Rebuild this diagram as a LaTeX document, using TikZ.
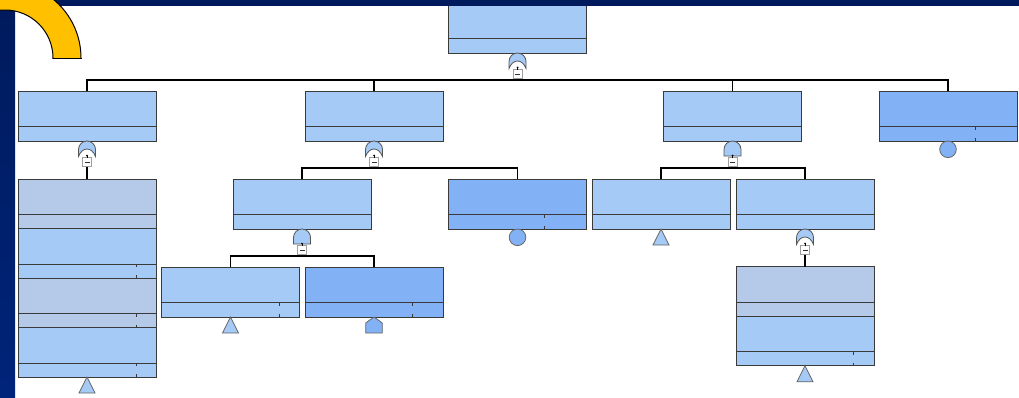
\documentclass[tikz,border=0pt]{standalone}
\definecolor{navy}{HTML}{001A5C}
\definecolor{navyb}{HTML}{00247A}
\definecolor{ring}{HTML}{FFC000}
\definecolor{lb}{HTML}{A6CAF6}
\definecolor{db}{HTML}{82B2F5}
\definecolor{gb}{HTML}{B4CAE8}
\definecolor{edge}{HTML}{3A3A3A}
\definecolor{gedge}{HTML}{555555}
\tikzset{
  ebox/.style={rectangle, draw=edge, line width=1pt, minimum width=138pt, minimum height=50pt, inner sep=0pt, outer sep=0pt},
  conn/.style={black, line width=1.6pt},
  thinconn/.style={black, line width=0.9pt},
  band/.style={draw=edge, line width=0.9pt},
  tickm/.style={edge, line width=0.8pt},
  gateline/.style={draw=gedge, line width=0.8pt, fill=lb},
  tailline/.style={draw=gedge!90, line width=0.8pt},
  minusbox/.style={rectangle, draw=gray!75, fill=white, line width=0.7pt, minimum width=9pt, minimum height=9pt, inner sep=0pt, outer sep=0pt,
    path picture={\draw[gray!40!black, line width=0.8pt] ([xshift=-2.5pt]path picture bounding box.center) -- ([xshift=2.5pt]path picture bounding box.center);}},
  orgate/.pic={
    \filldraw[gateline] (-8.5,15.5) -- (-8.5,8.5) .. controls (-8.5,3.81) and (-4.69,0) .. (0,0) .. controls (4.69,0) and (8.5,3.81) .. (8.5,8.5) -- (8.5,15.5)
      .. controls (6.5,10.5) and (3.5,8) .. (0,8) .. controls (-3.5,8) and (-6.5,10.5) .. (-8.5,15.5) -- cycle;
    \fill[black] (0,14.5) circle[radius=1pt];
    \coordinate (-out) at (0,14.5);
  },
  andgate/.pic={
    \filldraw[gateline] (-8.5,15) -- (-8.5,8.5) .. controls (-8.5,3.81) and (-4.69,0) .. (0,0) .. controls (4.69,0) and (8.5,3.81) .. (8.5,8.5) -- (8.5,15) -- cycle;
    \fill[black] (0,14.5) circle[radius=1pt];
    \coordinate (-out) at (0,14.5);
  },
  xfer/.pic={
    \filldraw[tailline, fill=lb] (0,0) -- (8,16) -- (-8,16) -- cycle;
  },
  basic/.pic={
    \filldraw[tailline, fill=db] (0,8.3) circle[radius=8.3pt];
  },
  house/.pic={
    \filldraw[tailline, fill=db] (0,0) -- (8.3,6) -- (8.3,16) -- (-8.3,16) -- (-8.3,6) -- cycle;
  },
}
\newcommand\bandtick[2]{\draw[tickm] (#1,#2-14) -- (#1,#2-11) (#1,#2-3) -- (#1,#2);}
\begin{document}
\begin{tikzpicture}[x=1pt,y=-1pt]
\useasboundingbox (0,0) rectangle (1019,397);
\clip (0,0) rectangle (1019,397);
\fill[white] (0,0) rectangle (1019,397);

% boxes
\node[ebox, fill=lb] (T) at (517.5,28) {};
\node[ebox, fill=lb] (A) at (87,116) {};
\node[ebox, fill=lb] (B) at (374,116) {};
\node[ebox, fill=lb] (C) at (732.5,116) {};
\node[ebox, fill=db] (D) at (948,116) {};
\node[ebox, fill=gb, minimum height=49.5pt] (S1) at (87,203.75) {};
\node[ebox, fill=lb, minimum height=49.5pt] (S2) at (87,253.25) {};
\node[ebox, fill=gb, minimum height=49.5pt] (S3) at (87,302.75) {};
\node[ebox, fill=lb, minimum height=49.5pt] (S4) at (87,352.25) {};
\node[ebox, fill=lb] (E) at (302,204) {};
\node[ebox, fill=db] (F) at (517.5,204) {};
\node[ebox, fill=lb] (G) at (661,204) {};
\node[ebox, fill=lb] (H) at (805,204) {};
\node[ebox, fill=lb] (I) at (230.5,292) {};
\node[ebox, fill=db] (J) at (374,292) {};
\node[ebox, fill=gb, minimum height=49.5pt] (K) at (805,291.5) {};
\node[ebox, fill=lb, minimum height=49.5pt] (L) at (805,341) {};

% lower bands
\foreach \b in {T,A,B,C,D,E,F,G,H,I,J}{
  \draw[band] ([yshift=14.5pt]\b.south west) -- ([yshift=14.5pt]\b.south east);
}
\foreach \b in {S1,S2,S3,S4,K,L}{
  \draw[band] ([yshift=14pt]\b.south west) -- ([yshift=14pt]\b.south east);
}
\bandtick{975}{141}
\bandtick{544}{229}
\bandtick{279}{317}
\bandtick{412}{317}
\bandtick{136.5}{278}
\bandtick{136.5}{327.5}
\bandtick{136.5}{377}
\bandtick{853.5}{365.75}

% gates
\pic (gT) at (T.south) {orgate};
\pic (gA) at (A.south) {orgate};
\pic (gB) at (B.south) {orgate};
\pic (gC) at (C.south) {andgate};
\pic (gE) at (E.south) {andgate};
\pic (gH) at (H.south) {orgate};
\foreach \g in {T,A,B,C,E,H}{
  \node[minusbox] (m\g) at ([yshift=-21pt]\g.south) {};
  \draw[thinconn] (g\g-out) -- (m\g.north);
}

% connectors
\coordinate (bus0) at (517.5,80);
\draw[conn] (mT.south) -- (bus0);
\draw[conn] (A.north) |- (bus0) -| (D.north);
\draw[conn] (B.north) -- (B.north |- bus0);
\draw[conn] (C.north) -- (C.north |- bus0);

\draw[conn] (mA.south) -- (S1.north);

\coordinate (busB) at (374,168);
\draw[conn] (mB.south) -- (busB);
\draw[conn] (E.north) |- (busB) -| (F.north);

\coordinate (busC) at (732.5,168);
\draw[conn] (mC.south) -- (busC);
\draw[conn] (G.north) |- (busC) -| (H.north);

\coordinate (busE) at (302,256);
\draw[conn] (mE.south) -- (busE);
\draw[conn] (I.north) |- (busE) -| (J.north);

\draw[conn] (mH.south) -- (K.north);

% tails
\pic (tS) at (S4.south) {xfer};
\pic (tG) at (G.south) {xfer};
\pic (tI) at (I.south) {xfer};
\pic (tL) at (L.south) {xfer};
\pic (cF) at (F.south) {basic};
\pic (cD) at (D.south) {basic};
\pic (hJ) at (J.south) {house};

% frame bars
\shade[top color=navy, bottom color=navyb] (0,0) rectangle (15,397);
\fill[navy] (0,0) rectangle (1019,5.5);

% yellow ring
\begin{scope}
  \clip (-100,-100) rectangle (200,58);
  \filldraw[fill=ring, draw=black, line width=1pt, even odd rule] (5,58) circle[radius=76pt] (5,58) circle[radius=48pt];
\end{scope}
\draw[black, line width=1pt] (52.5,58) -- (81.5,58);
\end{tikzpicture}
\end{document}
